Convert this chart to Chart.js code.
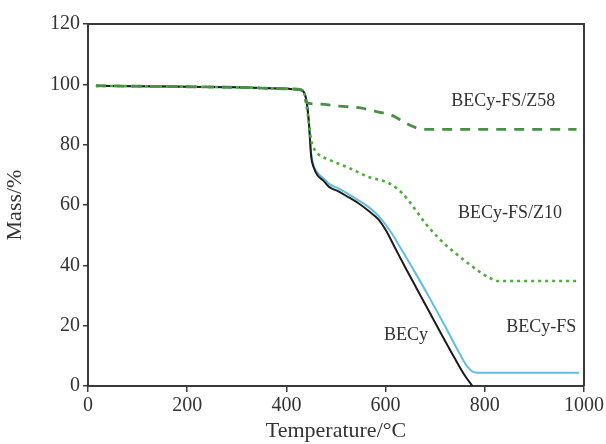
<!DOCTYPE html>
<html>
<head>
<meta charset="utf-8">
<script src="https://cdn.jsdelivr.net/npm/chart.js@4.4.0/dist/chart.umd.min.js"></script>
<style>
body { margin: 0; background: #fff; }
#wrap { width: 606px; height: 444px; }
</style>
</head>
<body>
<div id="wrap"><canvas id="tga" width="606" height="444"></canvas></div>
<script>
// TGA: remaining mass (%) against temperature (°C)
var seriesNames = ['BECy', 'BECy-FS', 'BECy-FS/Z10', 'BECy-FS/Z58'];

// BECy
var becyTemp = [16, 100, 200, 300, 405, 430, 440, 445, 450, 455, 462, 475, 486, 505, 526, 546, 566, 585, 600, 620, 640, 665, 690, 715, 740, 760, 775];
var becyMass = [99.5, 99.4, 99.2, 99.0, 98.5, 98.0, 95, 88, 76, 72.5, 70, 68, 66, 64.5, 62.5, 60.5, 58, 55.3, 51.8, 45.5, 39.2, 31.6, 24, 16.4, 9, 3.4, 0];

// BECy-FS
var fsTemp = [16, 100, 200, 300, 405, 430, 440, 445, 450, 455, 462, 475, 486, 505, 526, 546, 566, 586, 610, 633, 660, 690, 720, 750, 765, 775, 785, 990];
var fsMass = [99.5, 99.4, 99.2, 99.0, 98.5, 98.0, 95, 88, 77, 73, 70.8, 68.8, 67, 65.5, 63.5, 61.5, 59.3, 56.3, 51.2, 45, 37.5, 28.8, 19.8, 10.5, 6.4, 4.8, 4.4, 4.4];

// BECy-FS/Z10
var z10Temp = [16, 100, 200, 300, 405, 430, 436, 443, 450, 458, 466, 486, 526, 566, 606, 633, 653, 680, 707, 730, 760, 790, 810, 825, 990];
var z10Mass = [99.5, 99.4, 99.2, 99.0, 98.5, 98.2, 97, 90, 81.5, 78, 76.6, 75, 72.3, 69.3, 67.3, 64, 60, 54, 49, 45.5, 41.5, 37.8, 35.8, 34.8, 34.8];

// BECy-FS/Z58
var z58Temp = [16, 100, 200, 300, 405, 430, 436, 440, 460, 506, 552, 586, 612, 640, 663, 680, 985];
var z58Mass = [99.5, 99.4, 99.2, 99.0, 98.5, 98.2, 97, 94, 93.5, 92.8, 92.1, 90.8, 89.8, 87.2, 85.5, 85.1, 85.1];

var xTicks = [0, 200, 400, 600, 800, 1000];
var yTicks = [0, 20, 40, 60, 80, 100, 120];

function toPoints(t, m) {
    var pts = [];
    for (var i = 0; i < t.length; i++) pts.push({ x: t[i], y: m[i] });
    return pts;
}

var serif = "'Liberation Serif', 'Times New Roman', serif";
var axisColor = '#3a3a3a';

// frame on top/right plus the curve names written inside the plot
var frameAndNames = {
    id: 'frameAndNames',
    afterDatasetsDraw: function (chart) {
        var ctx = chart.ctx;
        var a = chart.chartArea;
        var xs = chart.scales.x, ys = chart.scales.y;
        ctx.save();
        ctx.strokeStyle = axisColor;
        ctx.lineWidth = 2;
        ctx.beginPath();
        ctx.moveTo(a.left, a.top);
        ctx.lineTo(a.right, a.top);
        ctx.lineTo(a.right, a.bottom);
        ctx.stroke();

        var names = [
            { text: seriesNames[3], x: 837, y: 94.5 },
            { text: seriesNames[2], x: 851, y: 57.3 },
            { text: seriesNames[1], x: 914, y: 19.6 },
            { text: seriesNames[0], x: 641, y: 16.9 }
        ];
        ctx.fillStyle = '#333';
        ctx.font = '18px ' + serif;
        ctx.textAlign = 'center';
        ctx.textBaseline = 'middle';
        names.forEach(function (n) {
            ctx.fillText(n.text, xs.getPixelForValue(n.x), ys.getPixelForValue(n.y));
        });
        ctx.restore();
    }
};

var ctx = document.getElementById('tga').getContext('2d');
var tga = new Chart(ctx, {
    type: 'line',
    data: {
        datasets: [{
            label: seriesNames[3],
            data: toPoints(z58Temp, z58Mass),
            borderColor: '#4a8f45',
            borderWidth: 2.8,
            borderDash: [10, 8]
        }, {
            label: seriesNames[2],
            data: toPoints(z10Temp, z10Mass),
            borderColor: '#4fac38',
            borderWidth: 2.6,
            borderDash: [3, 4]
        }, {
            label: seriesNames[0],
            data: toPoints(becyTemp, becyMass),
            borderColor: '#1c1c1c',
            borderWidth: 2
        }, {
            label: seriesNames[1],
            data: toPoints(fsTemp, fsMass),
            borderColor: '#62bde0',
            borderWidth: 2
        }]
    },
    options: {
        responsive: false,
        animation: false,
        events: [],
        layout: { padding: { top: 24, right: 20, bottom: 0, left: 0 } },
        elements: {
            point: { radius: 0 },
            line: { cubicInterpolationMode: 'monotone', fill: false }
        },
        plugins: {
            legend: { display: false },
            tooltip: { enabled: false }
        },
        scales: {
            x: {
                type: 'linear',
                min: 0,
                max: 1000,
                afterBuildTicks: function (axis) {
                    axis.ticks = xTicks.map(function (v) { return { value: v }; });
                },
                afterFit: function (axis) { axis.height = 58; },
                grid: { drawOnChartArea: false, drawTicks: true, tickLength: 6, color: axisColor, lineWidth: 1.5 },
                border: { display: true, color: axisColor, width: 2 },
                ticks: {
                    color: '#333', padding: 2, maxRotation: 0,
                    font: { family: serif, size: 20 },
                    callback: function (v) { return String(v); }
                },
                title: { display: true, text: 'Temperature/°C', color: '#333', padding: { top: -2, bottom: 0 }, font: { family: serif, size: 22 } }
            },
            y: {
                min: 0,
                max: 120,
                afterBuildTicks: function (axis) {
                    axis.ticks = yTicks.map(function (v) { return { value: v }; });
                },
                afterFit: function (axis) { axis.width = 88; },
                grid: { drawOnChartArea: false, drawTicks: true, tickLength: 5, color: axisColor, lineWidth: 1.5 },
                border: { display: true, color: axisColor, width: 2 },
                ticks: { color: '#333', padding: 3, font: { family: serif, size: 20 } },
                title: { display: true, text: 'Mass/%', color: '#333', padding: { top: 2, bottom: 0 }, font: { family: serif, size: 22 } }
            }
        }
    },
    plugins: [frameAndNames]
});
</script>
</body>
</html>
